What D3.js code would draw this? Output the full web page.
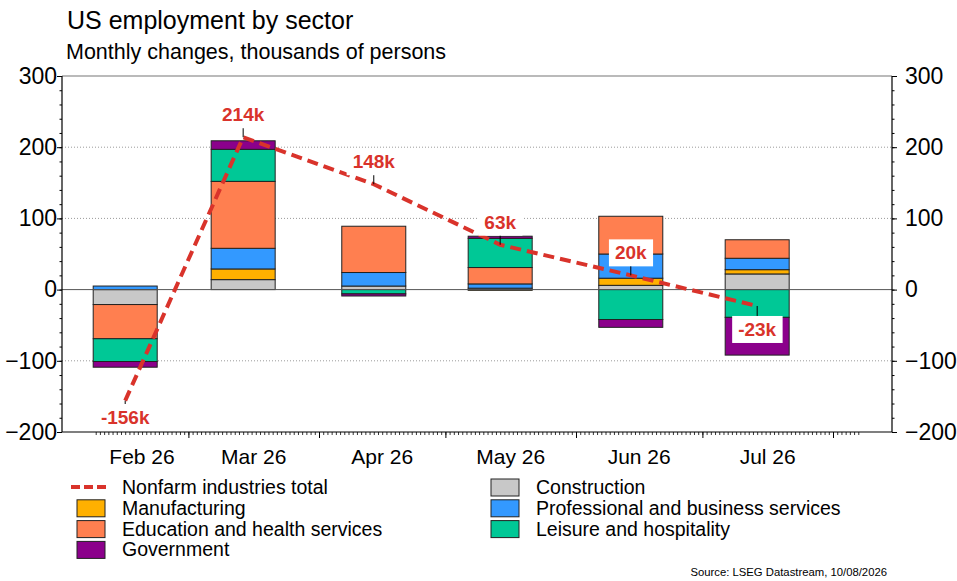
<!DOCTYPE html>
<html>
<head>
<meta charset="utf-8">
<script src="https://cdn.jsdelivr.net/npm/d3@7"></script>
<style>
  body { margin: 0; background: #fff; }
  svg { font-family: "Liberation Sans", Arial, sans-serif; }
</style>
</head>
<body>
<div id="container"></div>
<script>
//Chart data
const months = ['2026-02-14', '2026-03-14', '2026-04-14', '2026-05-14', '2026-06-14', '2026-07-14'];
const construction = [-21, 14, 5, 2, 6, 22];
const manufacturing = [0, 15, 0, -1, 10, 6];
const professional = [5, 29, 19, 6, 34, 16];
const education = [-48, 94, 65, 23, 53, 26];
const leisure = [-32, 45, -6, 41, -42, -39];
const government = [-8, 12, -3, 3, -11, -53];
const nonfarmTotal = [-156, 214, 148, 63, 20, -23];
const yTicks = [-200, -100, 0, 100, 200, 300];

const sectors = [
    { key: 'construction', name: 'Construction', color: '#c8c8c8', values: construction },
    { key: 'manufacturing', name: 'Manufacturing', color: '#ffb000', values: manufacturing },
    { key: 'professional', name: 'Professional and business services', color: '#3399ff', values: professional },
    { key: 'education', name: 'Education and health services', color: '#ff7f50', values: education },
    { key: 'leisure', name: 'Leisure and hospitality', color: '#00c896', values: leisure },
    { key: 'government', name: 'Government', color: '#8b008b', values: government }
];

const lineColor = '#d9332b';
const width = 957;
const height = 581;
const plot = { left: 62, right: 892, top: 76, bottom: 432 };

const svg = d3.select('#container').append('svg')
    .attr('width', width)
    .attr('height', height);

//Table for stacking
const parse = d3.utcParse('%Y-%m-%d');
const rows = months.map((m, i) => {
    const row = { date: parse(m), total: nonfarmTotal[i] };
    sectors.forEach(s => row[s.key] = s.values[i]);
    return row;
});

//Scales
const x = d3.scaleUtc()
    .domain([Date.UTC(2026, 0, 30), Date.UTC(2026, 7, 15)])
    .range([plot.left, plot.right]);

const y = d3.scaleLinear()
    .domain([-200, 300])
    .range([plot.bottom, plot.top]);

const tickStart = new Date(Date.UTC(2026, 1, 7));
const tickEnd = new Date(Date.UTC(2026, 7, 7));

//Gridlines
svg.append('g')
    .selectAll('line')
    .data(yTicks.filter(v => v !== 0 && v !== -200 && v !== 300))
    .enter().append('line')
    .attr('x1', plot.left).attr('x2', plot.right)
    .attr('y1', d => y(d)).attr('y2', d => y(d))
    .attr('stroke', '#9a9a9a')
    .attr('stroke-width', 1)
    .attr('stroke-dasharray', '1,2');

svg.append('line')
    .attr('x1', plot.left).attr('x2', plot.right)
    .attr('y1', y(300)).attr('y2', y(300))
    .attr('stroke', '#777').attr('stroke-width', 1.2);

//Bars
const stack = d3.stack()
    .keys(sectors.map(s => s.key))
    .offset(d3.stackOffsetDiverging);
const series = stack(rows);
const barWidth = 64;

svg.append('g')
    .selectAll('g')
    .data(series)
    .enter().append('g')
    .attr('fill', (d, i) => sectors[i].color)
    .selectAll('rect')
    .data(d => d.filter(p => p[1] - p[0] !== 0))
    .enter().append('rect')
    .attr('x', d => x(d.data.date) - barWidth / 2)
    .attr('width', barWidth)
    .attr('y', d => y(Math.max(d[0], d[1])))
    .attr('height', d => Math.abs(y(d[0]) - y(d[1])))
    .attr('stroke', '#222')
    .attr('stroke-width', 1);

//Zero line
svg.append('line')
    .attr('x1', plot.left).attr('x2', plot.right)
    .attr('y1', y(0)).attr('y2', y(0))
    .attr('stroke', '#555').attr('stroke-width', 1);

//Nonfarm total line
const line = d3.line()
    .x(d => x(d.date))
    .y(d => y(d.total));

svg.append('path')
    .datum(rows)
    .attr('d', line)
    .attr('fill', 'none')
    .attr('stroke', lineColor)
    .attr('stroke-width', 4)
    .attr('stroke-dasharray', '11,6');

//Point labels with white boxes and leader lines
const labels = svg.append('g');
rows.forEach((d, i) => {
    const px = x(d.date);
    const py = y(d.total);
    const below = d.total < 0;
    const baseline = below ? Math.min(py + 30, plot.bottom - 8) : py - 16;
    const g = labels.append('g');
    const t = g.append('text')
        .attr('x', px)
        .attr('y', baseline)
        .attr('text-anchor', 'middle')
        .attr('font-size', 19)
        .attr('font-weight', 'bold')
        .attr('fill', lineColor)
        .text(d.total + 'k');
    const bb = t.node().getBBox();
    g.insert('rect', 'text')
        .attr('x', bb.x - 6)
        .attr('y', bb.y - 3)
        .attr('width', bb.width + 12)
        .attr('height', bb.height + 6)
        .attr('fill', '#fff');
    const y2 = below ? bb.y - 3 : bb.y + bb.height + 3;
    if (Math.abs(y2 - py) > 2) {
        g.append('line')
            .attr('x1', px).attr('x2', px)
            .attr('y1', py)
            .attr('y2', y2)
            .attr('stroke', '#000')
            .attr('stroke-width', 1);
    }
});

//Frame
svg.append('path')
    .attr('d', `M${plot.left},${plot.top}V${plot.bottom}H${plot.right}V${plot.top}`)
    .attr('fill', 'none')
    .attr('stroke', '#000')
    .attr('stroke-width', 1.2);

//Y axes, left and right
const minorY = d3.range(-200, 301, 20);
function yAxis(axisFn, xPos, pad) {
    svg.append('g')
        .attr('transform', `translate(${xPos},0)`)
        .call(axisFn(y).tickValues(minorY).tickSize(2.5).tickFormat(''))
        .call(g => g.select('.domain').remove());
    svg.append('g')
        .attr('transform', `translate(${xPos},0)`)
        .call(axisFn(y).tickValues(yTicks).tickSize(5).tickPadding(pad))
        .call(g => g.select('.domain').remove())
        .call(g => g.selectAll('text').attr('font-size', 23).attr('fill', '#000')
            .attr('font-family', '"Liberation Sans", Arial, sans-serif'));
}
yAxis(d3.axisLeft, plot.left, 0);
yAxis(d3.axisRight, plot.right, 8);

//X axis: daily minor ticks, monthly major ticks
svg.append('g')
    .attr('transform', `translate(0,${plot.bottom})`)
    .call(d3.axisBottom(x).tickValues(d3.utcDay.range(tickStart, d3.utcDay.offset(tickEnd, 1)))
        .tickSize(3).tickFormat(''))
    .call(g => g.select('.domain').remove())
    .call(g => g.selectAll('line').attr('stroke-width', 0.8));
svg.append('g')
    .attr('transform', `translate(0,${plot.bottom})`)
    .call(d3.axisBottom(x).tickValues(d3.utcMonth.range(tickStart, d3.utcDay.offset(tickEnd, 1)))
        .tickSize(6).tickFormat(''))
    .call(g => g.select('.domain').remove());

const monthFmt = d3.utcFormat('%b %y');
svg.append('g')
    .selectAll('text')
    .data(d3.utcMonth.range(d3.utcMonth.floor(tickStart), d3.utcMonth.floor(tickEnd)))
    .enter().append('text')
    .attr('x', d => {
        const a = Math.max(d, tickStart);
        const b = Math.min(d3.utcMonth.offset(d, 1), tickEnd);
        return (x(a) + x(b)) / 2;
    })
    .attr('y', 464)
    .attr('text-anchor', 'middle')
    .attr('font-size', 21)
    .text(monthFmt);

//Title and subtitle
svg.append('text')
    .attr('x', 67).attr('y', 29)
    .attr('font-size', 25)
    .text('US employment by sector');
svg.append('text')
    .attr('x', 66).attr('y', 59)
    .attr('font-size', 21.5)
    .text('Monthly changes, thousands of persons');

//Legend
const legendItems = [
    { name: 'Nonfarm industries total', line: true, col: 0, row: 0 },
    { ...sectors[1], col: 0, row: 1 },
    { ...sectors[3], col: 0, row: 2 },
    { ...sectors[5], col: 0, row: 3 },
    { ...sectors[0], col: 1, row: 0 },
    { ...sectors[2], col: 1, row: 1 },
    { ...sectors[4], col: 1, row: 2 }
];
const legend = svg.append('g');
legendItems.forEach(it => {
    const lx = it.col === 0 ? 77 : 491;
    const ly = 487 + it.row * 20.8;
    const g = legend.append('g').attr('transform', `translate(${lx},${ly})`);
    if (it.line) {
        g.append('line')
            .attr('x1', -6).attr('x2', 32)
            .attr('stroke', lineColor)
            .attr('stroke-width', 4)
            .attr('stroke-dasharray', '9,4');
    } else {
        g.append('rect')
            .attr('x', 0).attr('y', -8)
            .attr('width', 28).attr('height', 17)
            .attr('fill', it.color)
            .attr('stroke', '#222')
            .attr('stroke-width', 1);
    }
    g.append('text')
        .attr('x', 45).attr('y', 7)
        .attr('font-size', 19.5)
        .text(it.name);
});

//Source
svg.append('text')
    .attr('x', 887).attr('y', 576)
    .attr('text-anchor', 'end')
    .attr('font-size', 11.3)
    .text('Source: LSEG Datastream, 10/08/2026');
</script>
</body>
</html>
